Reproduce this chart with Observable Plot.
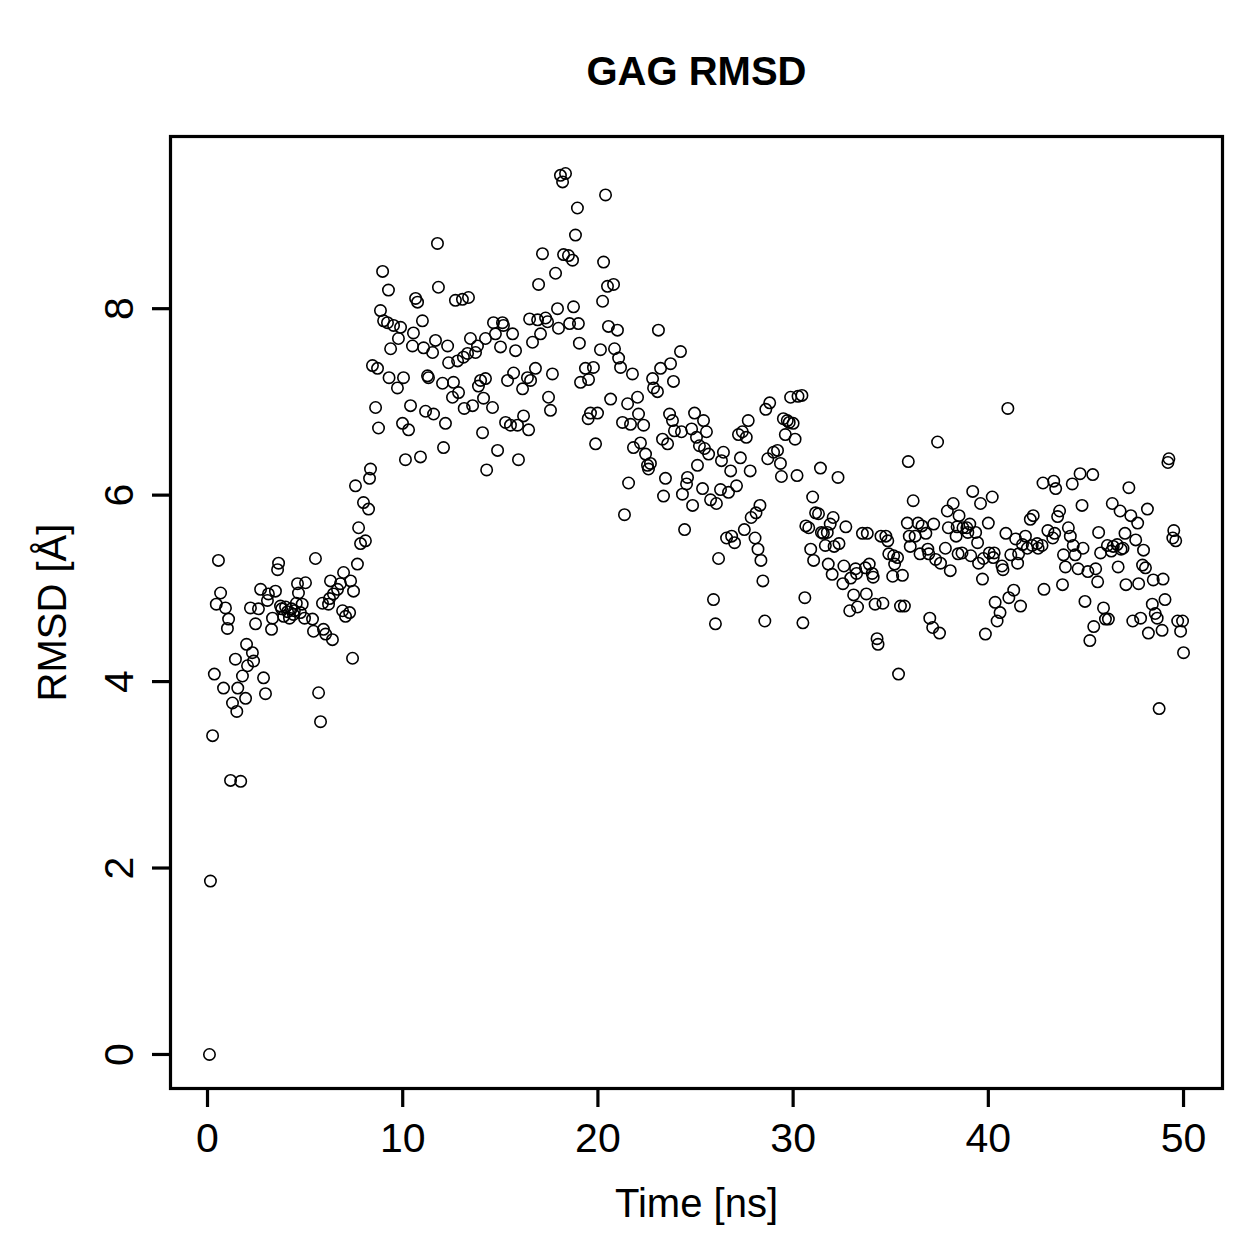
<!DOCTYPE html>
<html>
<head>
<meta charset="utf-8">
<script src="https://cdn.jsdelivr.net/npm/d3@7"></script>
<script src="https://cdn.jsdelivr.net/npm/@observablehq/plot@0.6"></script>
<style>
  html, body { margin: 0; padding: 0; background: #fff; }
  #chart svg { display: block; }
</style>
</head>
<body>
<div id="chart"></div>
<script>
const titleText = "GAG RMSD";
const xLabel = "Time [ns]";
const yLabel = "RMSD [Å]";
const xTicks = [0, 10, 20, 30, 40, 50];
const yTicks = [0, 2, 4, 6, 8];

const time = [
  0.1, 0.15, 0.26, 0.35, 0.45, 0.56, 0.67, 0.82, 0.92, 1.02, 1.08, 1.18, 1.28, 1.43, 1.5, 1.55, 1.7, 1.79, 1.95, 2.0,
  2.05, 2.2, 2.3, 2.36, 2.46, 2.61, 2.72, 2.87, 2.97, 3.07, 3.12, 3.28, 3.33, 3.48, 3.59, 3.64, 3.74, 3.8, 3.9, 4.0,
  4.1, 4.2, 4.3, 4.4,
  4.45, 4.55, 4.61, 4.66, 4.76, 4.85, 4.97, 5.02, 5.38, 5.43, 5.53, 5.69, 5.79, 5.89, 5.94, 6.05, 6.2, 6.25, 6.3, 6.4,
  6.45, 6.66, 6.81, 6.92, 6.97, 7.07, 7.28, 7.33, 7.43, 7.48, 7.58, 7.68, 7.74, 7.84, 7.99, 8.09, 8.25, 8.3, 8.35, 8.45,
  8.61, 8.71, 8.76, 8.86, 8.97, 9.02, 9.22, 9.27, 9.3, 9.38,
  9.53, 9.73, 9.78, 9.89, 9.99, 10.04, 10.14, 10.3, 10.4, 10.5, 10.55, 10.66, 10.76, 10.91, 11.01, 11.07, 11.17, 11.27, 11.32, 11.53,
  11.58, 11.68, 11.78, 11.83, 12.04, 12.09, 12.19, 12.3, 12.35, 12.55, 12.6, 12.7, 12.81, 12.86, 13.06, 13.11, 13.15, 13.32, 13.37, 13.47,
  13.58, 13.73, 13.83, 13.88, 13.99, 14.09, 14.14, 14.24, 14.24, 14.3,
  14.6, 14.65, 14.75, 14.86, 15.01, 15.11, 15.16, 15.27, 15.37, 15.52, 15.63, 15.68, 15.78, 15.88, 15.93, 16.14, 16.19, 16.39, 16.45, 16.5,
  16.55, 16.65, 16.8, 16.91, 16.96, 17.06, 17.16, 17.32, 17.42, 17.47, 17.57, 17.67, 17.83, 17.93, 17.98, 18.08, 18.19, 18.24, 18.34, 18.49,
  18.55, 18.7, 18.75, 18.85, 18.95, 19.0, 19.05, 19.11,
  19.36, 19.5, 19.52, 19.62, 19.77, 19.88, 19.98, 20.13, 20.24, 20.29, 20.39, 20.49, 20.54, 20.65, 20.8, 20.85, 21.0, 21.06, 21.16, 21.26,
  21.36, 21.52, 21.57, 21.67, 21.77, 21.82, 22.03, 22.08, 22.18, 22.34, 22.44, 22.54, 22.59, 22.69, 22.8, 22.85, 23.05, 23.1, 23.21, 23.31,
  23.36, 23.46, 23.57, 23.67, 23.72, 23.82, 23.87, 23.92,
  24.23, 24.28, 24.33, 24.44, 24.54, 24.59, 24.8, 24.85, 24.95, 25.05, 25.1, 25.2, 25.36, 25.41, 25.46, 25.56, 25.67, 25.77, 25.92, 26.02,
  26.07, 26.18, 26.28, 26.33, 26.43, 26.59, 26.69, 26.8, 26.85, 27.0, 27.1, 27.2, 27.3, 27.4, 27.5, 27.6, 27.7, 27.8, 27.85, 28.05,
  28.1, 28.2, 28.3, 28.35, 28.45, 28.55, 28.6, 28.7, 28.8,
  29.0, 29.2, 29.35, 29.4, 29.5, 29.6, 29.7, 29.8, 29.87, 30.0, 30.1, 30.2, 30.25, 30.45, 30.5, 30.6, 30.65, 30.8, 30.9, 31.0,
  31.05, 31.15, 31.3, 31.4, 31.45, 31.55, 31.65, 31.75, 31.8, 31.9, 32.0, 32.05, 32.1, 32.3, 32.35, 32.55, 32.6, 32.7, 32.9, 32.95,
  33.1, 33.2, 33.25, 33.3, 33.55, 33.7,
  33.75, 33.8, 33.9, 34.05, 34.1, 34.2, 34.3, 34.35, 34.5, 34.6, 34.75, 34.85, 34.9, 35.1, 35.15, 35.2, 35.35, 35.4, 35.5, 35.6,
  35.7, 35.85, 35.9, 35.95, 36.0, 36.15, 36.25, 36.4, 36.5, 36.6, 36.8, 36.9, 36.95, 37.0, 37.15, 37.2, 37.3, 37.4, 37.5, 37.55,
  37.8, 37.9, 37.95, 38.05, 38.2, 38.35, 38.4, 38.45,
  38.5, 38.65, 38.7, 38.9, 38.95, 39.05, 39.1, 39.2, 39.35, 39.45, 39.5, 39.6, 39.7, 39.75, 39.85, 40.0, 40.05, 40.2, 40.25, 40.3,
  40.35, 40.45, 40.6, 40.7, 40.75, 40.9, 41.0, 41.05, 41.15, 41.3, 41.4, 41.5, 41.55, 41.65, 41.75, 41.9, 42.0, 42.15, 42.25, 42.3,
  42.5, 42.55, 42.75, 42.8, 42.85, 43.05, 43.3, 43.35, 43.4, 43.45,
  43.55, 43.65, 43.8, 43.85, 43.95, 44.1, 44.2, 44.3, 44.35, 44.45, 44.6, 44.7, 44.8, 44.85, 44.95, 45.1, 45.2, 45.35, 45.4, 45.5,
  45.6, 45.65, 45.75, 45.9, 46.0, 46.1, 46.15, 46.3, 46.35, 46.4, 46.6, 46.65, 46.75, 46.8, 46.9, 47.0, 47.05, 47.2, 47.3, 47.4,
  47.55, 47.65, 47.7, 47.8, 47.9, 47.95, 48.05, 48.15, 48.2,
  48.4, 48.45, 48.55, 48.65, 48.75, 48.9, 48.95, 49.05, 49.2, 49.25, 49.45, 49.5, 49.6, 49.7, 49.85, 49.95, 50.0
];

const rmsd = [
  0, 1.86, 3.42, 4.08, 4.83, 5.3, 4.95, 3.93, 4.79, 4.57, 4.67, 2.94, 3.77, 4.24, 3.68, 3.93, 2.93, 4.06, 3.82, 4.4,
  4.17, 4.79, 4.31, 4.22, 4.62, 4.78, 4.99, 4.04, 3.87, 4.87, 4.94, 4.56, 4.68, 4.97, 5.2, 5.27, 4.81, 4.78, 4.7, 4.8,
  4.75, 4.68, 4.78, 4.72,
  4.76, 4.84, 5.05, 4.95, 4.74, 4.83, 4.68, 5.06, 4.67, 4.54, 5.32, 3.88, 3.57, 4.84, 4.56, 4.51, 4.83, 4.89, 5.08, 4.45,
  4.94, 4.99, 5.05, 4.76, 5.17, 4.7, 4.74, 5.08, 4.25, 4.97, 6.1, 5.26, 5.65, 5.48, 5.92, 5.51, 5.85, 6.18, 6.28, 7.39,
  6.94, 7.36, 6.72, 7.98, 8.4, 7.87, 7.85, 8.2, 7.26, 7.57,
  7.82, 7.15, 7.68, 7.8, 6.77, 7.26, 6.38, 6.7, 6.96, 7.6, 7.74, 8.11, 8.07, 6.41, 7.87, 7.58, 6.9, 7.28, 7.26, 7.53,
  6.87, 7.66, 8.7, 8.23, 7.2, 6.51, 6.77, 7.6, 7.42, 7.05, 7.21, 8.09, 7.44, 7.1, 8.1, 7.48, 6.93, 7.52, 8.12, 7.68,
  6.96, 7.53, 7.6, 7.17, 7.23, 6.67, 7.04, 7.68, 7.25, 6.27,
  6.94, 7.85, 7.73, 6.48, 7.59, 7.85, 7.82, 6.78, 7.23, 6.75, 7.73, 7.31, 7.55, 6.75, 6.38, 7.14, 6.85, 7.26, 6.7, 7.89,
  7.23, 7.64, 7.36, 7.88, 8.26, 7.73, 8.59, 7.9, 7.86, 7.05, 6.91, 7.3, 8.38, 8.0, 7.79, 9.43, 9.36, 8.58, 9.45, 8.57,
  7.84, 8.52, 8.02, 8.79, 9.08, 7.84, 7.63, 7.21,
  7.36, 6.82, 7.24, 6.88, 7.37, 6.55, 6.88, 7.56, 8.08, 8.5, 9.22, 8.24, 7.81, 7.03, 8.26, 7.57, 7.77, 7.47, 7.37, 6.78,
  5.79, 6.98, 6.13, 6.76, 7.3, 6.51, 7.05, 6.87, 6.56, 6.75, 6.44, 6.32, 6.28, 6.34, 7.25, 7.15, 7.11, 7.77, 7.36, 6.6,
  5.99, 6.18, 6.55, 6.87, 7.41, 6.8, 7.22, 6.69,
  7.54, 6.68, 6.01, 5.63, 6.12, 6.19, 6.71, 5.89, 6.88, 6.62, 6.32, 6.53, 6.07, 6.8, 6.5, 6.68, 6.44, 5.95, 4.88, 4.62,
  5.91, 5.32, 6.06, 6.37, 6.46, 5.54, 6.03, 6.26, 5.56, 5.49, 6.1, 6.65, 6.4, 6.68, 5.63, 6.62, 6.8, 6.26, 5.76, 5.54,
  5.81, 5.42, 5.89, 5.3, 5.08, 4.65, 6.92, 6.39, 6.99,
  6.46, 6.48, 6.34, 6.2, 6.82, 6.65, 6.8, 6.78, 7.05, 6.77, 6.6, 6.21, 7.06, 7.07, 4.63, 4.9, 5.67, 5.65, 5.42, 5.98,
  5.3, 5.81, 5.8, 6.29, 5.6, 5.59, 5.46, 5.6, 5.26, 5.69, 5.15, 5.76, 5.45, 6.19, 5.48, 5.05, 5.24, 5.66, 4.76, 5.11,
  4.93, 5.21, 5.16, 4.8, 5.59, 5.22,
  4.94, 5.59, 5.26, 5.16, 5.12, 4.83, 4.46, 4.4, 5.56, 4.84, 5.56, 5.51, 5.37, 5.13, 5.35, 5.26, 5.33, 4.08, 4.81, 5.14,
  4.81, 5.7, 6.36, 5.56, 5.45, 5.94, 5.56, 5.7, 5.37, 5.67, 5.59, 5.42, 5.37, 4.68, 4.58, 5.69, 5.31, 6.57, 4.52, 5.27,
  5.43, 5.83, 5.65, 5.19, 5.91, 5.56, 5.66, 5.37,
  5.78, 5.38, 5.65, 5.65, 5.6, 5.69, 5.35, 6.04, 5.6, 5.49, 5.27, 5.91, 5.1, 5.32, 4.51, 5.7, 5.38, 5.98, 5.33, 5.38,
  4.85, 4.65, 4.74, 5.24, 5.2, 5.59, 6.93, 4.9, 5.36, 4.98, 5.53, 5.27, 5.37, 4.81, 5.47, 5.56, 5.43, 5.74, 5.46, 5.78,
  5.48, 5.43, 5.46, 6.13, 4.99, 5.62, 5.54, 6.15, 5.59, 6.07,
  5.77, 5.83, 5.04, 5.36, 5.23, 5.65, 5.56, 6.12, 5.46, 5.36, 5.21, 6.23, 5.89, 5.43, 4.86, 5.18, 4.44, 6.22, 4.59, 5.21,
  5.07, 5.6, 5.38, 4.79, 4.67, 5.46, 4.67, 5.4, 5.91, 5.45, 5.47, 5.23, 5.83, 5.42, 5.43, 5.59, 5.04, 6.08, 5.78, 4.65,
  5.52, 5.7, 5.05, 4.68, 5.25, 5.41, 5.22, 5.85, 4.52,
  4.83, 5.09, 4.73, 4.68, 3.71, 4.55, 5.1, 4.88, 6.35, 6.39, 5.54, 5.62, 5.51, 4.65, 4.54, 4.65, 4.31
];

const data = time.map((t, i) => ({time: t, rmsd: rmsd[i]}));

const font = "'Liberation Sans', Arial, Helvetica, sans-serif";

const chart = Plot.plot({
  width: 1259,
  height: 1259,
  marginLeft: 170,
  marginRight: 37,
  marginTop: 136,
  marginBottom: 171,
  style: {fontFamily: font, fontSize: "40px", background: "#fff", color: "#000", overflow: "visible"},
  x: {domain: [-1.896, 51.996]},
  y: {domain: [-0.365, 9.847]},
  marks: [
    Plot.frame({stroke: "#000", strokeWidth: 3.2}),
    Plot.axisX({ticks: xTicks, tickSize: 19, tickPadding: 15, strokeWidth: 3.2, fontSize: 41, label: null, tickFormat: d => String(d)}),
    Plot.axisY({ticks: yTicks, tickSize: 18, strokeWidth: 3.2, label: null, tickFormat: () => ""}),
    Plot.text(yTicks, {y: d => d, text: d => String(d), frameAnchor: "left", dx: -38, rotate: -90,
      textAnchor: "middle", lineAnchor: "bottom", fontSize: 41, fill: "#000"}),
    Plot.dot(data, {x: "time", y: "rmsd", r: 5.7, stroke: "#000", strokeWidth: 1.6, fill: "none"}),
    Plot.text([titleText], {text: d => d, frameAnchor: "top", dy: -52, lineAnchor: "bottom",
      fontSize: 40, fontWeight: "bold", fill: "#000"}),
    Plot.text([xLabel], {text: d => d, frameAnchor: "bottom", dy: 128, lineAnchor: "bottom",
      fontSize: 40, fill: "#000"}),
    Plot.text([yLabel], {text: d => d, frameAnchor: "left", dx: -105, rotate: -90,
      textAnchor: "middle", lineAnchor: "bottom", fontSize: 40, fill: "#000"})
  ]
});

document.getElementById("chart").appendChild(chart);
</script>
</body>
</html>
